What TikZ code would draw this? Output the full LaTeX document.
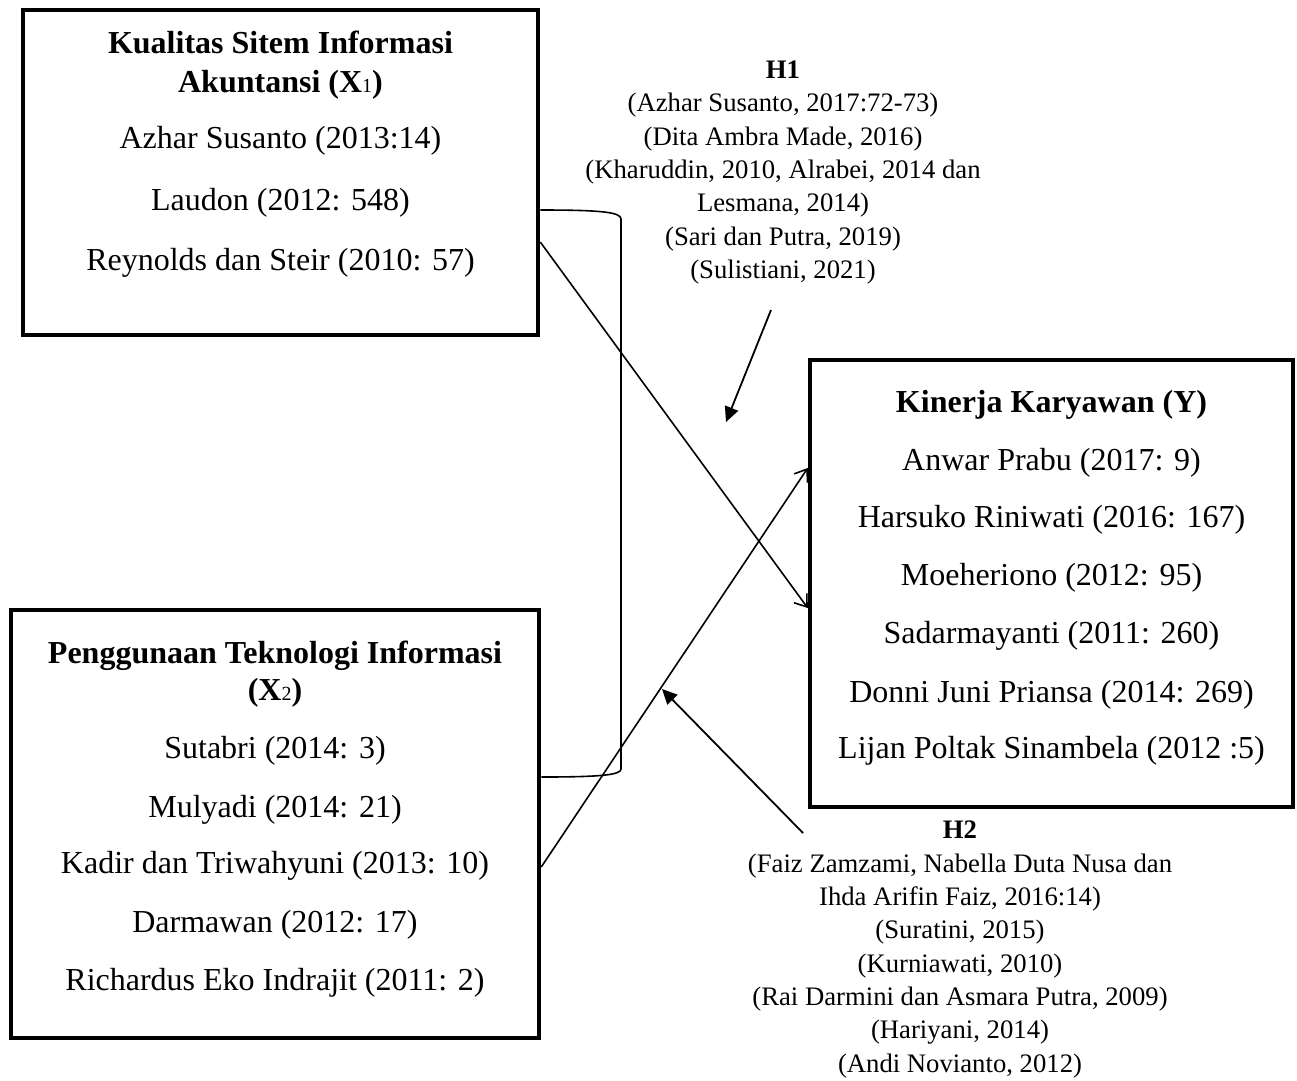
\documentclass[tikz,border=0pt]{standalone}
\usepackage{fontspec}
\setmainfont{Liberation Serif}
\usetikzlibrary{arrows.meta}
\newcommand{\subdig}[1]{{\fontsize{20}{20}\selectfont\mdseries #1}}
\begin{document}
\begin{tikzpicture}[x=1pt,y=-1pt,
  box/.style={draw, line width=4.5pt, inner sep=0pt},
  txt/.style={anchor=base, inner sep=0pt, font=\fontsize{32}{38}\selectfont},
  ttl/.style={txt, font=\fontsize{32}{38}\selectfont\bfseries},
  htxt/.style={align=center, inner sep=0pt, font=\fontsize{26.7}{33.3}\selectfont},
  conn/.style={line width=1.6pt, -{Straight Barb[length=11pt,width=16pt,line width=1.6pt]}},
  harrow/.style={line width=1.8pt, -{Triangle[length=15pt,width=14pt]}},
  brk/.style={line width=1.6pt}]
\useasboundingbox (0,0) rectangle (1297,1080);

% boxes
\node[box, minimum width=515pt, minimum height=325pt] (x1) at (280.5,172.5) {};
\node[box, minimum width=528pt, minimum height=428pt] (x2) at (275,824) {};
\node[box, minimum width=483pt, minimum height=447pt] (y) at (1051.5,583.5) {};

% X1 text
\node[ttl] (x1t1) at (280.5,53) {Kualitas Sitem Informasi};
\node[ttl] (x1t2) at (280.5,92) {Akuntansi (X\subdig{1})};
\node[txt] (x1a) at (280.5,148) {Azhar Susanto (2013:14)};
\node[txt] (x1b) at (280.5,210) {Laudon (2012: 548)};
\node[txt] (x1c) at (280.5,270) {Reynolds dan Steir (2010: 57)};

% X2 text
\node[ttl] (x2t1) at (275,663) {Penggunaan Teknologi Informasi};
\node[ttl] (x2t2) at (275,700) {(X\subdig{2})};
\node[txt] (x2a) at (275,758) {Sutabri (2014: 3)};
\node[txt] (x2b) at (275,817) {Mulyadi (2014: 21)};
\node[txt] (x2c) at (275,873) {Kadir dan Triwahyuni (2013: 10)};
\node[txt] (x2d) at (275,932) {Darmawan (2012: 17)};
\node[txt] (x2e) at (275,990) {Richardus Eko Indrajit (2011: 2)};

% Y text
\node[ttl] (yt) at (1051.5,412) {Kinerja Karyawan (Y)};
\node[txt] (ya) at (1051.5,470) {Anwar Prabu (2017: 9)};
\node[txt] (yb) at (1051.5,527) {Harsuko Riniwati (2016: 167)};
\node[txt] (yc) at (1051.5,585) {Moeheriono (2012: 95)};
\node[txt] (yd) at (1051.5,643) {Sadarmayanti (2011: 260)};
\node[txt] (ye) at (1051.5,702) {Donni Juni Priansa (2014: 269)};
\node[txt] (yf) at (1051.5,758) {Lijan Poltak Sinambela (2012 :5)};

% hypothesis texts
\node[htxt] (h1) at (783,172.5) {\textbf{H1}\\(Azhar Susanto, 2017:72-73)\\(Dita Ambra Made, 2016)\\(Kharuddin, 2010, Alrabei, 2014 dan\\Lesmana, 2014)\\(Sari dan Putra, 2019)\\(Sulistiani, 2021)};
\node[htxt] (h2) at (960,949.5) {\textbf{H2}\\(Faiz Zamzami, Nabella Duta Nusa dan\\Ihda Arifin Faiz, 2016:14)\\(Suratini, 2015)\\(Kurniawati, 2010)\\(Rai Darmini dan Asmara Putra, 2009)\\(Hariyani, 2014)\\(Andi Novianto, 2012)};

% bracket joining X1 and X2
\draw[brk] (x1.east |- 0,210) .. controls (600,210) and (621,212) .. (621,219)
  -- (621,769) .. controls (621,775) and (600,777) .. (x2.east |- 0,777);

% connectors
\draw[conn] (x1.east |- 0,242) -- (y.west |- 0,608);
\draw[conn] (x2.east |- 0,867) -- (y.west |- 0,468);

% hypothesis arrows
\coordinate (h1s) at (771,310);
\coordinate (h1e) at (726,422);
\coordinate (h2s) at (803,833);
\coordinate (h2e) at (662,689);
\draw[harrow] (h1s) -- (h1e);
\draw[harrow] (h2s) -- (h2e);
\end{tikzpicture}
\end{document}
